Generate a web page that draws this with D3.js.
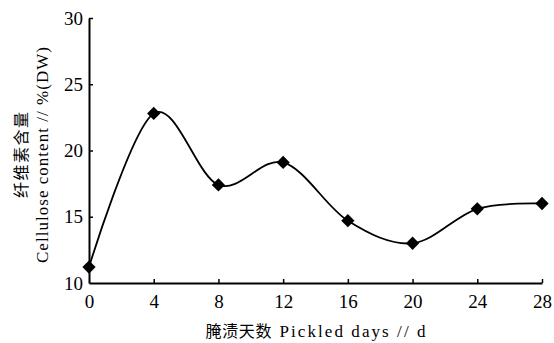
<!DOCTYPE html>
<html lang="zh">
<head>
<meta charset="UTF-8">
<script src="https://cdnjs.cloudflare.com/ajax/libs/d3/7.8.5/d3.min.js"></script>
<style>
  body { margin: 0; background: #fff; }
  svg { display: block; }
</style>
</head>
<body>
<script>
// 数据：腌渍天数与纤维素含量
var days = [0, 4, 8, 12, 16, 20, 24, 28];
var cellulose = [11.2, 22.8, 17.4, 19.1, 14.7, 13.0, 15.6, 16.0];
var xTicks = [0, 4, 8, 12, 16, 20, 24, 28];
var yTicks = [10, 15, 20, 25, 30];

var width = 554, height = 343;
var margin = { top: 18, right: 12, bottom: 60, left: 89 };
var serif = "'Liberation Serif', 'Times New Roman', serif";
var cjk = "'Noto Sans CJK SC', sans-serif";

var svg = d3.select('body').append('svg')
    .attr('width', width)
    .attr('height', height);

var x = d3.scaleLinear().domain([0, 28]).range([margin.left, width - margin.right]);
var y = d3.scaleLinear().domain([10, 30]).range([height - margin.bottom, margin.top]);

// 坐标轴（刻度朝内）
var xAxis = svg.append('g')
    .attr('transform', 'translate(0,' + y(10) + ')')
    .call(d3.axisBottom(x).tickValues(xTicks).tickSizeInner(-4).tickSizeOuter(0).tickPadding(10));
var yAxis = svg.append('g')
    .attr('transform', 'translate(' + x(0) + ',0)')
    .call(d3.axisLeft(y).tickValues(yTicks).tickSizeInner(-4).tickSizeOuter(0).tickPadding(6));

[xAxis, yAxis].forEach(function (g) {
    g.select('.domain').attr('stroke', '#000').attr('stroke-width', 2);
    g.selectAll('.tick line').attr('stroke', '#000').attr('stroke-width', 1.5);
    g.selectAll('.tick text')
        .attr('fill', '#000')
        .style('font-family', serif)
        .style('font-size', '19px');
});
// 去掉与坐标轴重合的刻度线
xAxis.selectAll('.tick').filter(function (d) { return d === 0; }).select('line').remove();
yAxis.selectAll('.tick').filter(function (d) { return d === 10; }).select('line').remove();
xAxis.selectAll('.tick text').attr('dy', '0.8em');

// 平滑曲线
var line = d3.line()
    .x(function (d, i) { return x(days[i]); })
    .y(function (d) { return y(d); })
    .curve(d3.curveCardinal.tension(0));

svg.append('path')
    .datum(cellulose)
    .attr('d', line)
    .attr('fill', 'none')
    .attr('stroke', '#000')
    .attr('stroke-width', 1.8);

// 菱形标记
var diamond = d3.symbol().type(d3.symbolSquare).size(88);
svg.selectAll('.pt')
    .data(cellulose)
    .enter().append('path')
    .attr('class', 'pt')
    .attr('d', diamond)
    .attr('transform', function (d, i) {
        return 'translate(' + x(days[i]) + ',' + y(d) + ') rotate(45)';
    })
    .attr('fill', '#000');

// X 轴标题
var cx = (x(0) + x(28)) / 2;
var xStart = cx - 110;
svg.append('text')
    .attr('x', xStart).attr('y', 337)
    .attr('textLength', 66).attr('lengthAdjust', 'spacing')
    .style('font-family', cjk).style('font-size', '16px')
    .attr('fill', '#000')
    .text('腌渍天数');
svg.append('text')
    .attr('x', xStart + 74).attr('y', 337)
    .attr('textLength', 146).attr('lengthAdjust', 'spacing')
    .style('font-family', serif).style('font-size', '17px')
    .attr('fill', '#000')
    .text('Pickled days // d');

// Y 轴标题（两行）
var cy = 155;
svg.append('text')
    .attr('transform', 'translate(20,' + cy + ') rotate(-90)')
    .attr('text-anchor', 'middle')
    .attr('dominant-baseline', 'central')
    .attr('textLength', 86).attr('lengthAdjust', 'spacing')
    .style('font-family', cjk).style('font-size', '16px')
    .attr('fill', '#000')
    .text('纤维素含量');
svg.append('text')
    .attr('transform', 'translate(42,' + (cy + 108) + ') rotate(-90)')
    .attr('dominant-baseline', 'central')
    .attr('textLength', 216).attr('lengthAdjust', 'spacing')
    .style('font-family', serif).style('font-size', '17px')
    .attr('fill', '#000')
    .text('Cellulose content // %(DW)');
</script>
</body>
</html>
